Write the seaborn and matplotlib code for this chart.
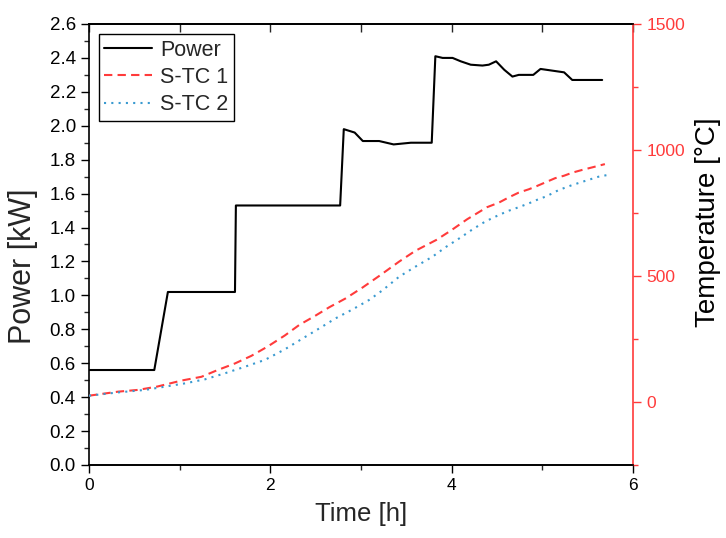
import matplotlib
matplotlib.use("Agg")
import matplotlib.pyplot as plt
import seaborn as sns
import numpy as np
from matplotlib.ticker import MultipleLocator, FormatStrFormatter

# ---- data ----
power_time = [0, 0.72, 0.87, 1.61, 1.62, 2.77, 2.81, 2.93, 3.02, 3.20, 3.36, 3.55, 3.78,
              3.82, 3.90, 4.01, 4.10, 4.21, 4.34, 4.41, 4.49, 4.58, 4.67, 4.74, 4.90,
              4.98, 5.11, 5.24, 5.33, 5.66]
power_kw = [0.56, 0.56, 1.02, 1.02, 1.53, 1.53, 1.98, 1.96, 1.91, 1.91, 1.89, 1.90, 1.90,
            2.41, 2.40, 2.40, 2.38, 2.36, 2.355, 2.36, 2.38, 2.33, 2.29, 2.30, 2.30,
            2.335, 2.325, 2.315, 2.27, 2.27]

stc1_time = [0, 0.32, 0.54, 0.75, 1.02, 1.24, 1.42, 1.61, 1.79, 1.97, 2.16, 2.32, 2.49,
             2.65, 2.83, 3.02, 3.20, 3.42, 3.60, 3.83, 3.99, 4.17, 4.28, 4.39, 4.52,
             4.63, 4.74, 4.85, 4.94, 5.05, 5.14, 5.24, 5.33, 5.44, 5.55, 5.69]
stc1_temp = [25, 41, 48, 61, 85, 100, 127, 153, 183, 220, 264, 306, 341,
             376, 411, 455, 500, 557, 600, 643, 680, 725, 749, 773, 791,
             812, 831, 844, 857, 874, 888, 898, 910, 921, 931, 944]

stc2_time = [0, 0.32, 0.62, 0.84, 1.06, 1.28, 1.50, 1.72, 1.94, 2.16, 2.36, 2.54, 2.72,
             2.91, 3.09, 3.24, 3.42, 3.60, 3.79, 3.94, 4.10, 4.23, 4.37, 4.52, 4.63,
             4.74, 4.85, 4.94, 5.05, 5.18, 5.33, 5.47, 5.62, 5.75]
stc2_temp = [25, 38, 48, 61, 74, 90, 114, 140, 167, 209, 253, 292, 332,
             368, 405, 444, 497, 537, 577, 616, 653, 685, 716, 742, 759,
             773, 788, 802, 817, 841, 861, 877, 894, 903]

labels = ["Power", "S-TC 1", "S-TC 2"]
RED = "#FF3B3B"
BLUE = "#3A9AD0"

sns.set_style("ticks")
plt.rcParams["font.family"] = ["Liberation Sans", "DejaVu Sans"]

fig = plt.figure(figsize=(7.26, 5.38), dpi=100)
ax = fig.add_axes([0.1226, 0.1357, 0.8719 - 0.1226, 0.9554 - 0.1357])
ax2 = ax.twinx()

sns.lineplot(x=power_time, y=power_kw, ax=ax, color="black", linewidth=1.5,
             sort=False, label=labels[0], legend=False)
sns.lineplot(x=stc1_time, y=stc1_temp, ax=ax2, color=RED, linewidth=1.5,
             sort=False, label=labels[1], legend=False)
sns.lineplot(x=stc2_time, y=stc2_temp, ax=ax2, color=BLUE, linewidth=1.5,
             sort=False, label=labels[2], legend=False)
ax2.lines[0].set_dashes([4, 2.5])
ax2.lines[1].set_dashes([1, 2.5])

ax.set_xlim(0, 6)
ax.set_ylim(0, 2.6)
ax2.set_ylim(-250, 1500)

ax.xaxis.set_major_locator(MultipleLocator(2))
ax.xaxis.set_minor_locator(MultipleLocator(1))
ax.yaxis.set_major_locator(MultipleLocator(0.2))
ax.yaxis.set_minor_locator(MultipleLocator(0.1))
ax.yaxis.set_major_formatter(FormatStrFormatter("%.1f"))
ax2.yaxis.set_major_locator(MultipleLocator(500))
ax2.yaxis.set_minor_locator(MultipleLocator(250))

ax.tick_params(axis="both", which="major", direction="out", length=6, width=1,
               colors="black", right=False, top=False)
ax.tick_params(axis="y", which="major", labelsize=13.5)
ax.tick_params(axis="x", which="major", labelsize=12.5)
ax.tick_params(axis="both", which="minor", direction="out", length=3.5, width=1,
               right=False, top=False)
ax2.tick_params(axis="y", which="major", direction="out", length=6, width=1,
                labelsize=12.5, colors=RED)
ax2.tick_params(axis="y", which="minor", direction="out", length=3.5, width=1,
                colors=RED)

sec = ax.secondary_xaxis("top")
sec.set_xticks(np.arange(0, 7, 1))
sec.tick_params(direction="in", length=6, width=1, labeltop=False)

for sp in ax.spines.values():
    sp.set_color("black")
    sp.set_linewidth(1.2)
ax.spines["right"].set_visible(False)
for name, sp in ax2.spines.items():
    sp.set_linewidth(1.2)
    if name == "right":
        sp.set_color(RED)
    elif name == "left":
        sp.set_visible(False)
    else:
        sp.set_color("black")
sec.spines["top"].set_linewidth(1.2)

ax.set_xlabel("Time [h]", fontsize=18.5, labelpad=6)
ax.set_ylabel("Power [kW]", fontsize=22)
ax2.set_ylabel("Temperature [°C]", fontsize=20, color="black")
ax.yaxis.set_label_coords(-0.094, 0.45)
ax2.yaxis.set_label_coords(1.114, 0.55)

handles = ax.lines[:1] + ax2.lines[:2]
leg = ax2.legend(handles, labels, loc="upper left", bbox_to_anchor=(0.018, 0.977),
                 borderaxespad=0, fontsize=15.5, frameon=True, fancybox=False,
                 framealpha=1, edgecolor="black", handlelength=2.2,
                 handletextpad=0.4, borderpad=0.25, labelspacing=0.3)
leg.get_frame().set_linewidth(1.0)

fig.savefig("out.png", dpi=100)
